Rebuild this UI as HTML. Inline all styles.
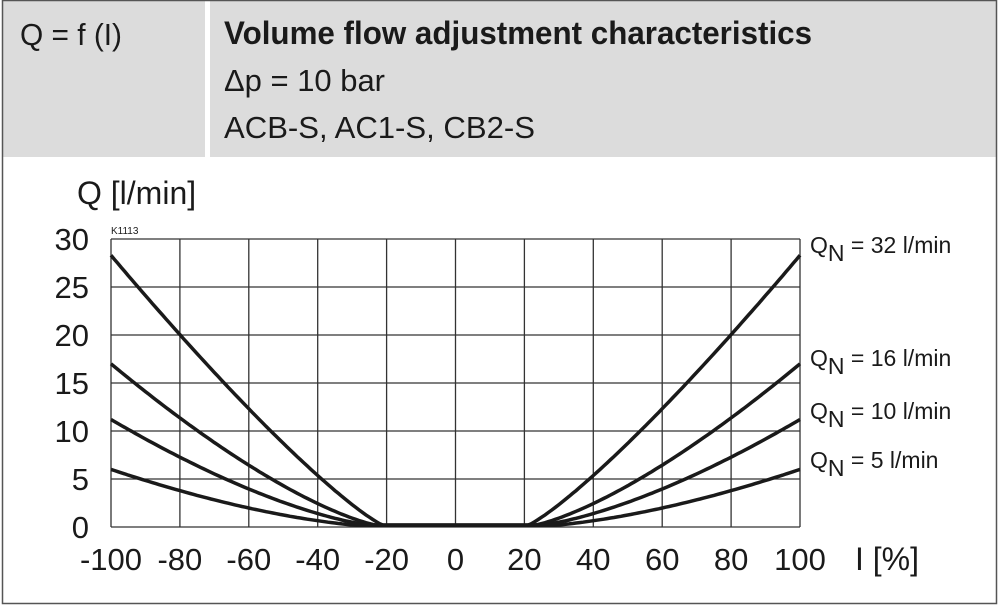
<!DOCTYPE html>
<html><head><meta charset="utf-8"><style>
body{margin:0;background:#fff;}
svg text{font-family:"Liberation Sans",sans-serif;fill:#1a1a1a;}
</style></head><body>
<svg id="s" width="1000" height="606" viewBox="0 0 1000 606" xmlns="http://www.w3.org/2000/svg">
<rect x="0" y="0" width="1000" height="606" fill="#fff"/>
<rect x="2" y="0" width="995" height="157" fill="#dcdcdc"/>
<rect x="205" y="0" width="5" height="157" fill="#fff"/>
<rect x="2.5" y="0.5" width="994" height="603" fill="none" stroke="#555" stroke-width="1.5"/>
<g transform="translate(20,45) scale(0.85,1)"><text font-size="31" textLength="120" lengthAdjust="spacingAndGlyphs">Q = f (I)</text></g>
<g transform="translate(224,44)"><text font-size="32" font-weight="bold" textLength="588" lengthAdjust="spacingAndGlyphs">Volume flow adjustment characteristics</text></g>
<g transform="translate(224,91)"><text font-size="31" textLength="161" lengthAdjust="spacingAndGlyphs">Δp = 10 bar</text></g>
<g transform="translate(224,138)"><text font-size="31" textLength="311" lengthAdjust="spacingAndGlyphs">ACB-S, AC1-S, CB2-S</text></g>
<g id="grid" stroke="#333" stroke-width="1.3" fill="none"></g>
<g id="curves" stroke="#1a1a1a" stroke-width="3.5" fill="none"></g>
<text x="77" y="204" font-size="32">Q [l/min]</text>
<text x="111" y="234" font-size="10">K1113</text>
<g font-size="31" text-anchor="end">
<text x="89" y="250">30</text><text x="89" y="298">25</text><text x="89" y="346">20</text>
<text x="89" y="394">15</text><text x="89" y="442">10</text><text x="89" y="490">5</text><text x="89" y="538">0</text>
</g>
<g id="xl" font-size="31" text-anchor="middle"></g>
<text x="855" y="570" font-size="32">I [%]</text>
<g font-size="23">
<text x="810" y="253">Q<tspan dy="8">N</tspan><tspan dy="-8"> = 32 l/min</tspan></text>
<text x="810" y="366">Q<tspan dy="8">N</tspan><tspan dy="-8"> = 16 l/min</tspan></text>
<text x="810" y="419">Q<tspan dy="8">N</tspan><tspan dy="-8"> = 10 l/min</tspan></text>
<text x="810" y="468">Q<tspan dy="8">N</tspan><tspan dy="-8"> = 5 l/min</tspan></text>
</g>
</svg>
<script>
var NS="http://www.w3.org/2000/svg",L=111,R=800,T=239,B=527;
function X(v){return L+(v+100)/200*(R-L);}function Y(q){return B-q/30*(B-T);}
var g=document.getElementById('grid'),xl=document.getElementById('xl');
for(var i=0;i<=10;i++){var l=document.createElementNS(NS,'line');var x=X(-100+20*i);l.setAttribute('x1',x);l.setAttribute('x2',x);l.setAttribute('y1',T);l.setAttribute('y2',B);g.appendChild(l);
var t=document.createElementNS(NS,'text');t.setAttribute('x',x);t.setAttribute('y',570);t.textContent=(-100+20*i);xl.appendChild(t);}
for(var j=0;j<=6;j++){var l=document.createElementNS(NS,'line');var y=Y(5*j);l.setAttribute('x1',L);l.setAttribute('x2',R);l.setAttribute('y1',y);l.setAttribute('y2',y);g.appendChild(l);}
var c=document.getElementById('curves');
[[28.3,1.2],[17,1.4],[11.2,1.5],[6,1.6]].forEach(function(p){var d='';
for(var v=-100;v<=100;v+=1){var a=Math.abs(v),q=a<=20?0:p[0]*Math.pow((a-20)/80,p[1]);q=Math.max(q,0.2);d+=(v==-100?'M':'L')+X(v).toFixed(1)+','+Y(q).toFixed(1);}
var pa=document.createElementNS(NS,'path');pa.setAttribute('d',d);c.appendChild(pa);});
</script>
</body></html>
